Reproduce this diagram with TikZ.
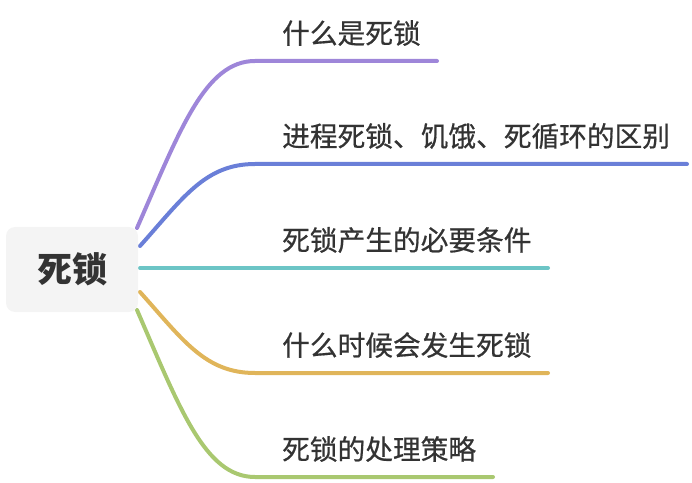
\documentclass[tikz,border=0pt]{standalone}
\usepackage{fontspec}
\setmainfont{Noto Sans CJK SC}
\newfontfamily\topicfont[FakeBold=0.6]{Noto Sans CJK SC}
\usetikzlibrary{backgrounds}
\definecolor{cpurple}{HTML}{9E86D9}
\definecolor{cblue}{HTML}{6A7FD8}
\definecolor{cteal}{HTML}{6CC5C6}
\definecolor{corange}{HTML}{E0B55A}
\definecolor{cgreen}{HTML}{A9C870}
\definecolor{ctext}{HTML}{333333}
\definecolor{cbox}{HTML}{F4F4F4}
\begin{document}
\begin{tikzpicture}[x=1pt,y=1pt,
  rootbox/.style={fill=cbox,rounded corners=9pt,minimum width=132pt,minimum height=85pt,inner sep=0pt,
    text=ctext,font=\fontsize{35}{40}\selectfont\bfseries},
  topic/.style={anchor=west,inner sep=0pt,text=ctext,font=\topicfont\fontsize{27.7}{32}\selectfont},
  branch/.style={line width=4pt,line cap=round}]
\useasboundingbox (0,0) rectangle (692,482);
\node[rootbox] (root) at (72,212.5) {死锁};
% text labels (y = 482 - pixel y)
\node[topic] (t1) at (282,449) {什么是死锁};
\node[topic] (t2) at (282,346) {进程死锁、饥饿、死循环的区别};
\node[topic] (t3) at (282,242) {死锁产生的必要条件};
\node[topic] (t4) at (282,137) {什么时候会发生死锁};
\node[topic] (t5) at (282,33) {死锁的处理策略};
% branch endpoints
\coordinate (s1) at (137,254);
\coordinate (s2) at (140,236);
\coordinate (s3) at (140,214);
\coordinate (s4) at (140,190);
\coordinate (s5) at (137,172);
\coordinate (e1) at (437,421);
\coordinate (e2) at (687,318);
\coordinate (e3) at (548,214);
\coordinate (e4) at (548,109);
\coordinate (e5) at (493,5);
\begin{scope}[on background layer]
\draw[branch,cpurple] (s1) .. controls (180,352) and (205,421) .. (255,421) -- (e1);
\draw[branch,cblue] (s2) .. controls (183,284) and (205,318) .. (255,318) -- (e2);
\draw[branch,cteal] (s3) -- (e3);
\draw[branch,corange] (s4) .. controls (183,142) and (205,109) .. (255,109) -- (e4);
\draw[branch,cgreen] (s5) .. controls (180,73) and (205,5) .. (255,5) -- (e5);
\end{scope}
\end{tikzpicture}
\end{document}
